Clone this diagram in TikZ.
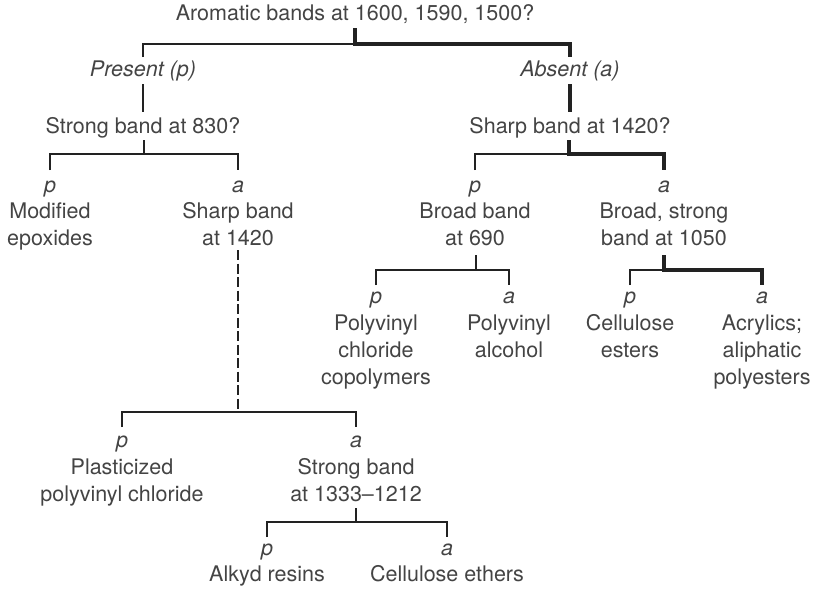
\documentclass[tikz,border=0pt]{standalone}
\usepackage{fontspec}
\setmainfont{TeX Gyre Heros}
\begin{document}
\begin{tikzpicture}[x=1pt,y=-1pt,
  txt/.style={anchor=base,inner sep=0pt,align=center,text=textgray,font=\fontsize{21.5}{27}\selectfont},
  lab/.style={txt,font=\fontsize{21.5}{27}\selectfont\itshape},
  thinline/.style={draw=linegray,line width=1.7pt},
  thickline/.style={draw=linegray,line width=3.4pt},
  dashline/.style={draw=linegray,line width=1.7pt,dash pattern=on 10pt off 3.5pt}]
\definecolor{textgray}{HTML}{444444}
\definecolor{linegray}{HTML}{222222}
\useasboundingbox (0,0) rectangle (820,590);
\fill[white] (0,0) rectangle (820,590);

% multi-line nodes are placed by the baseline of their last line

% ---- level 0
\node[txt] (root) at (355,20) {Aromatic bands at 1600, 1590, 1500?};
\coordinate (r0) at (355,28);
\coordinate (r1) at (355,44);
\coordinate (rl) at (143,44);
\coordinate (rr) at (570,44);
\coordinate (rld) at (143,57);
\coordinate (rrd) at (570,57);
\node[lab] (present) at (143,76) {Present (p)};
\node[lab] (absent) at (570,76) {Absent (a)};
\coordinate (pl0) at (143,84);
\coordinate (pl1) at (143,112);
\coordinate (al0) at (570,84);
\coordinate (al1) at (570,112);
\draw[thinline] (rld) -- (rl) -- (r1);
\draw[thickline] (r0) -- (r1) -- (rr) -- (rrd);
\draw[thinline] (pl0) -- (pl1);
\draw[thickline] (al0) -- (al1);

\node[txt] (q830) at (143,133) {Strong band at 830?};
\node[txt] (q1420) at (570,133) {Sharp band at 1420?};

% ---- level 1 left
\coordinate (a0) at (144,140);
\coordinate (a1) at (144,154);
\coordinate (al) at (50,154);
\coordinate (ar) at (238,154);
\coordinate (ald) at (50,170);
\coordinate (ard) at (238,170);
\draw[thinline] (a0) -- (a1);
\draw[thinline] (ald) -- (al) -- (ar) -- (ard);
\node[lab] (p1) at (50,192) {p};
\node[lab] (a1l) at (238,192) {a};
\node[txt] (modep) at (50,245) {Modified\\epoxides};
\node[txt] (sharp) at (238,245) {Sharp band\\at 1420};
\coordinate (d0) at (238,250);
\coordinate (d1) at (238,412);
\draw[dashline] (d0) -- (d1);

% ---- level 1 right
\coordinate (b0) at (569,140);
\coordinate (b1) at (569,154);
\coordinate (bl) at (475,154);
\coordinate (br) at (664,154);
\coordinate (bld) at (475,170);
\coordinate (brd) at (664,170);
\draw[thinline] (bld) -- (bl) -- (b1);
\draw[thickline] (b0) -- (b1) -- (br) -- (brd);
\node[lab] (p2) at (475,192) {p};
\node[lab] (a2) at (664,192) {a};
\node[txt] (broad) at (475,245) {Broad band\\at 690};
\node[txt] (broads) at (664,245) {Broad, strong\\band at 1050};

% ---- level 2 under broad band
\coordinate (c0) at (476,255);
\coordinate (c1) at (476,270);
\coordinate (cl) at (376,270);
\coordinate (cr) at (509,270);
\coordinate (cld) at (376,285);
\coordinate (crd) at (509,285);
\draw[thinline] (c0) -- (c1);
\draw[thinline] (cld) -- (cl) -- (cr) -- (crd);
\node[lab] (p3) at (376,303) {p};
\node[lab] (a3) at (509,303) {a};
\node[txt] (pvcc) at (376,384) {Polyvinyl\\chloride\\copolymers};
\node[txt] (pva) at (509,357) {Polyvinyl\\alcohol};

% ---- level 2 under broad strong
\coordinate (e0) at (664,255);
\coordinate (e1) at (664,270);
\coordinate (el) at (630,270);
\coordinate (er) at (762,270);
\coordinate (eld) at (630,285);
\coordinate (erd) at (762,285);
\draw[thinline] (eld) -- (el) -- (e1);
\draw[thickline] (e0) -- (e1) -- (er) -- (erd);
\node[lab] (p4) at (630,303) {p};
\node[lab] (a4) at (762,303) {a};
\node[txt] (cest) at (630,357) {Cellulose\\esters};
\node[txt] (acr) at (762,384) {Acrylics;\\aliphatic\\polyesters};

% ---- level 3
\coordinate (fl) at (122,412);
\coordinate (fr) at (356,412);
\coordinate (fld) at (122,427);
\coordinate (frd) at (356,427);
\draw[thinline] (fld) -- (fl) -- (fr) -- (frd);
\node[lab] (p5) at (122,447) {p};
\node[lab] (a5) at (356,447) {a};
\node[txt] (ppvc) at (122,501) {Plasticized\\polyvinyl chloride};
\node[txt] (sb) at (356,501) {Strong band\\at 1333–1212};

% ---- level 4
\coordinate (g0) at (356,508);
\coordinate (g1) at (356,522);
\coordinate (gl) at (267,522);
\coordinate (gr) at (447,522);
\coordinate (gld) at (267,537);
\coordinate (grd) at (447,537);
\draw[thinline] (g0) -- (g1);
\draw[thinline] (gld) -- (gl) -- (gr) -- (grd);
\node[lab] (p6) at (267,555) {p};
\node[lab] (a6) at (447,555) {a};
\node[txt] (alk) at (267,581) {Alkyd resins};
\node[txt] (ceth) at (447,581) {Cellulose ethers};
\end{tikzpicture}
\end{document}
